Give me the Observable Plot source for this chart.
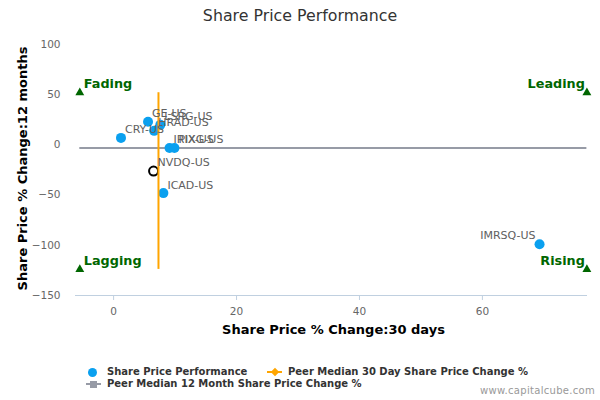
<!DOCTYPE html>
<html>
<head>
<meta charset="utf-8">
<script src="https://cdn.jsdelivr.net/npm/d3@7"></script>
<script src="https://cdn.jsdelivr.net/npm/@observablehq/plot@0.6"></script>
<style>
  body { margin: 0; background: #fff; font-family: "DejaVu Sans", sans-serif; }
  #chart { position: relative; width: 600px; height: 400px; overflow: hidden; background: #fff; }
  #title { height: 30px; line-height: 32px; text-align: center; font-size: 15.8px; color: #333; }
  #plot svg { display: block; }
  #legend { position: relative; height: 40px; font-size: 10px; font-weight: bold; color: #333; }
  .item { position: absolute; white-space: nowrap; line-height: 12px; }
  .sw { position: absolute; }
  #credit { position: absolute; right: 5px; top: 25px; line-height: 12px; font-size: 10px; letter-spacing: 0.3px; color: #999; font-weight: normal; white-space: nowrap; }
</style>
</head>
<body>
<div id="chart">
  <div id="title">Share Price Performance</div>
  <div id="plot"></div>
  <div id="legend"></div>
</div>
<script>
// ---- data ----
const tickers   = ["CRY-US", "GE-US", "HRAD-US", "LSRG-US", "IRIX-US", "PIXG-US", "ICAD-US", "IMRSQ-US"];
const change30d = [1.2, 5.6, 6.6, 7.6, 9.1, 9.9, 8.1, 69.3];
const change12m = [7, 23, 14, 20, -3, -3, -48, -99];

const subjectTicker = ["NVDQ-US"];
const subject30d = [6.5];
const subject12m = [-26];

const peerMedian30d = 7.3;
const peerMedian12m = -3;

const quadrantNames = ["Fading", "Leading", "Lagging", "Rising"];
const quadrantX = [-5.5, 77, -5.5, 77];
const quadrantY = [52, 52, -124, -124];

const xTicks = [0, 20, 40, 60];
const yTicks = [-150, -100, -50, 0, 50, 100];

const legendLabels = ["Share Price Performance", "Peer Median 30 Day Share Price Change %", "Peer Median 12 Month Share Price Change %"];
const titleText = "Share Price Performance";
const xTitle = "Share Price % Change:30 days";
const yTitle = "Share Price % Change:12 months";
const creditText = "www.capitalcube.com";

// ---- tables ----
const peers = tickers.map((t, i) => ({ticker: t, x: change30d[i], y: change12m[i]}));
const subject = subjectTicker.map((t, i) => ({ticker: t, x: subject30d[i], y: subject12m[i]}));
const quadrants = quadrantNames.map((n, i) => ({name: n, x: quadrantX[i], y: quadrantY[i]}));
const xMin = d3.min(quadrantX), xMax = d3.max(quadrantX);
const yMin = d3.min(quadrantY), yMax = d3.max(quadrantY);

const blue = "#0aa0ef", orange = "#ffa500", grey = "#979ba6", green = "#006600";

const chart = Plot.plot({
  width: 600,
  height: 330,
  marginLeft: 75,
  marginRight: 13,
  marginTop: 5,
  marginBottom: 65,
  style: {fontFamily: "DejaVu Sans, sans-serif", background: "white", overflow: "visible"},
  x: {domain: [-6.2, 77.1]},
  y: {domain: [-150, 109]},
  marks: [
    Plot.ruleY([-150], {stroke: "#c0d0e0", strokeWidth: 1}),
    Plot.axisX({ticks: xTicks, tickSize: 5, tickPadding: 7, stroke: "#c0d0e0", fill: "#666", fontSize: 10.5, label: null}),
    Plot.axisY({ticks: yTicks, tickSize: 0, tickPadding: 15, fill: "#666", fontSize: 10.5, label: null}),
    Plot.ruleY([peerMedian12m], {x1: xMin, x2: xMax, stroke: grey, strokeWidth: 2}),
    Plot.dot(peers, {x: "x", y: "y", r: 5, fill: blue, stroke: "none"}),
    Plot.dot(subject, {x: "x", y: "y", r: 4.5, fill: "white", stroke: "black", strokeWidth: 2}),
    Plot.ruleX([peerMedian30d], {y1: yMin, y2: yMax, stroke: orange, strokeWidth: 2}),
    Plot.dot(quadrants, {x: "x", y: "y", symbol: "triangle", r: 3.3, fill: green, stroke: "none"}),
    Plot.text(quadrants, {filter: d => d.x < 0, x: "x", y: "y", text: "name", textAnchor: "start", dx: 4, dy: -9, fill: green, fontWeight: "bold", fontSize: 12.8}),
    Plot.text(quadrants, {filter: d => d.x >= 0, x: "x", y: "y", text: "name", textAnchor: "end", dx: -2, dy: -9, fill: green, fontWeight: "bold", fontSize: 12.8}),
    Plot.text(peers, {filter: d => d.x <= 50, x: "x", y: "y", text: "ticker", textAnchor: "start", dx: 4, dy: -8, fill: "#606060", fontSize: 11}),
    Plot.text(peers, {filter: d => d.x > 50, x: "x", y: "y", text: "ticker", textAnchor: "end", dx: -4, dy: -9, fill: "#606060", fontSize: 11}),
    Plot.text(subject, {x: "x", y: "y", text: "ticker", textAnchor: "start", dx: 4, dy: -9, fill: "#606060", fontSize: 11}),
    Plot.text([xTitle], {frameAnchor: "bottom", textAnchor: "middle", lineAnchor: "middle", dx: 2, dy: 34.5, fill: "black", fontWeight: "bold", fontSize: 13}),
    Plot.text([yTitle], {frameAnchor: "left", textAnchor: "middle", lineAnchor: "middle", dx: -53, dy: 3, rotate: -90, fill: "black", fontWeight: "bold", fontSize: 13})
  ]
});
document.getElementById("plot").appendChild(chart);
document.getElementById("title").textContent = titleText;

// ---- legend ----
const legend = document.getElementById("legend");
legend.innerHTML = `
  <div class="sw" style="left:88px;top:7.5px;width:9px;height:9px;border-radius:50%;background:${blue}"></div>
  <div class="item" style="left:107px;top:6px">${legendLabels[0]}</div>
  <div class="sw" style="left:267px;top:11px;width:15px;height:2px;background:${orange}"></div>
  <div class="sw" style="left:271.5px;top:8.5px;width:6px;height:6px;background:${orange};transform:rotate(45deg)"></div>
  <div class="item" style="left:288px;top:6px">${legendLabels[1]}</div>
  <div class="sw" style="left:86px;top:23px;width:15px;height:2px;background:${grey}"></div>
  <div class="sw" style="left:89.5px;top:20.5px;width:7px;height:7px;background:${grey}"></div>
  <div class="item" style="left:107px;top:18px">${legendLabels[2]}</div>
  <div id="credit">${creditText}</div>
`;
</script>
</body>
</html>
